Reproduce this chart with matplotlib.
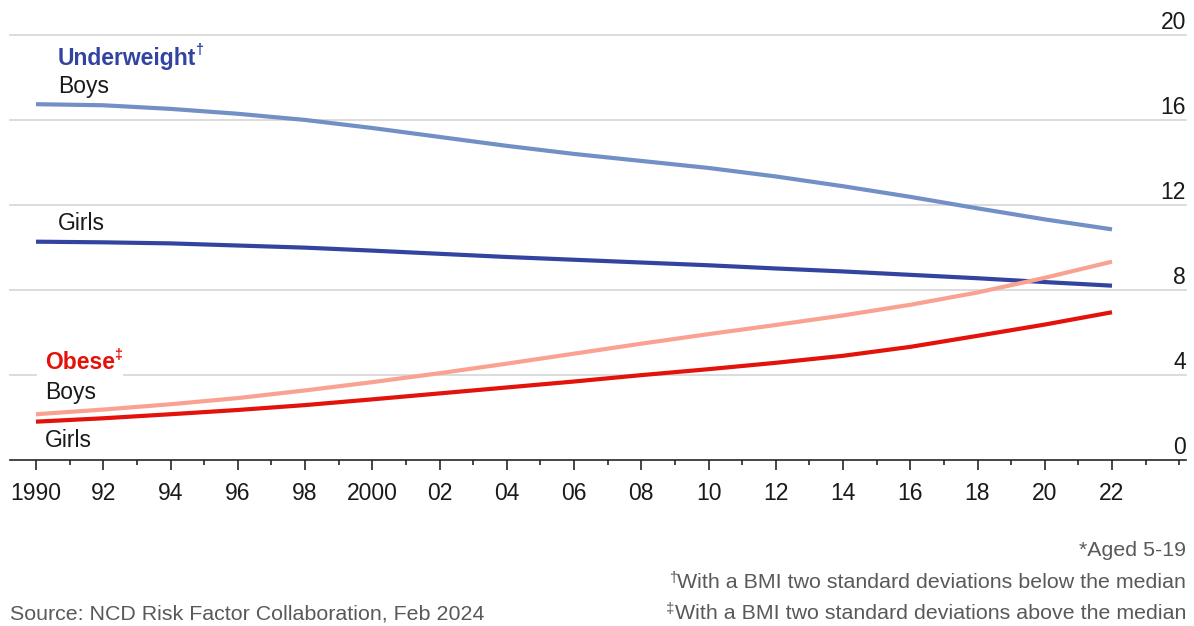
import matplotlib
matplotlib.use("Agg")
import matplotlib.pyplot as plt
from matplotlib.ticker import MultipleLocator, FixedLocator, FixedFormatter
from matplotlib.transforms import blended_transform_factory, ScaledTranslation

plt.rcParams['font.family'] = ['Liberation Sans Narrow', 'Liberation Sans', 'DejaVu Sans']

# Share of 5-19 year-olds, % (global)
years = list(range(1990, 2023, 2))
underweight_boys = [16.72, 16.67, 16.50, 16.27, 15.98, 15.60, 15.18, 14.76, 14.38,
                    14.05, 13.72, 13.32, 12.86, 12.36, 11.82, 11.30, 10.83]
underweight_girls = [10.25, 10.22, 10.17, 10.07, 9.97, 9.83, 9.68, 9.53, 9.40,
                     9.27, 9.14, 8.99, 8.85, 8.69, 8.53, 8.35, 8.18]
obese_boys = [2.13, 2.35, 2.60, 2.89, 3.25, 3.64, 4.06, 4.51, 4.98,
              5.45, 5.90, 6.33, 6.78, 7.28, 7.86, 8.55, 9.31]
obese_girls = [1.78, 1.94, 2.13, 2.33, 2.56, 2.83, 3.11, 3.39, 3.67,
               3.97, 4.25, 4.55, 4.88, 5.30, 5.82, 6.35, 6.93]

y_ticks = [0, 4, 8, 12, 16, 20]
x_major = list(range(1990, 2023, 2))
x_labels = ["1990", "92", "94", "96", "98", "2000", "02", "04", "06", "08",
            "10", "12", "14", "16", "18", "20", "22"]

C_UW_BOYS = "#7290c6"
C_UW_GIRLS = "#3344a0"
C_OB_BOYS = "#f9a292"
C_OB_GIRLS = "#e3120b"
C_GRID = "#d9d9d9"
C_TEXT = "#1a1a1a"
C_NOTE = "#595959"
FS = 16.5
FS_NOTE = 15.4

W, H = 1194, 626
fig = plt.figure(figsize=(W / 100, H / 100), dpi=100)
ax = fig.add_axes([10 / W, 1 - 459.5 / H, 1176 / W, 425 / H])
ax.set_xlim(1990 - 26 / 33.625, 2022 + 74 / 33.625)
ax.set_ylim(0, 20)

for yv in y_ticks[1:]:
    ax.axhline(yv, color=C_GRID, lw=1.3, zorder=0, clip_on=False)

for vals, col in [(underweight_boys, C_UW_BOYS), (underweight_girls, C_UW_GIRLS),
                  (obese_boys, C_OB_BOYS), (obese_girls, C_OB_GIRLS)]:
    ax.plot(years, vals, color=col, lw=3.0, solid_capstyle='butt',
            solid_joinstyle='round', zorder=3)

# Spines and x axis
for s in ['top', 'right', 'left']:
    ax.spines[s].set_visible(False)
ax.spines['bottom'].set_color('#262626')
ax.spines['bottom'].set_linewidth(1.2)
ax.xaxis.set_major_locator(FixedLocator(x_major))
ax.xaxis.set_major_formatter(FixedFormatter(x_labels))
ax.xaxis.set_minor_locator(MultipleLocator(1))
ax.tick_params(axis='x', which='major', length=7.5, width=1.2, color='#262626',
               labelsize=FS, labelcolor=C_TEXT, pad=9)
ax.tick_params(axis='x', which='minor', length=3.8, width=1.2, color='#262626')
ax.set_yticks([])

# Y values written above their gridlines at the right edge
trans = blended_transform_factory(ax.transAxes, ax.transData) + \
    ScaledTranslation(0, 4.2 / 72, fig.dpi_scale_trans)
for yv in y_ticks:
    ax.text(1.0, yv, str(yv), transform=trans, ha='right', va='baseline',
            fontsize=FS, color=C_TEXT)

FT = fig.transFigure


def fx(px):
    return px / W


def fy(py):
    return 1 - py / H


def label(px, py, s, **kw):
    return ax.text(fx(px), fy(py), s, transform=FT, va='baseline', ha=kw.pop('ha', 'left'),
                   clip_on=False, **kw)


def mark(parent, s, corner, ha, dx, dy, size, color, weight='normal', z=6):
    return ax.annotate(s, xy=corner, xycoords=parent, xytext=(dx, dy),
                       textcoords='offset points', ha=ha, va='top', fontsize=size,
                       fontweight=weight, color=color, annotation_clip=False, zorder=z)


# Series labels
uw = label(58, 64.5, "Underweight", fontsize=FS, fontweight='bold', color=C_UW_GIRLS)
mark(uw, "†", (1, 1), 'left', -1, 2.5, FS * 0.62, C_UW_GIRLS, 'bold')
label(58, 93, "Boys", fontsize=FS, color=C_TEXT)
label(58, 230, "Girls", fontsize=FS, color=C_TEXT)

ob = label(45, 369, "Obese", fontsize=FS, fontweight='bold', color=C_OB_GIRLS, zorder=5,
           bbox=dict(facecolor='white', edgecolor='none', pad=5.5))
mark(ob, "‡", (1, 1), 'left', -1, 2.5, FS * 0.62, C_OB_GIRLS, 'bold', z=7)
label(45, 399, "Boys", fontsize=FS, color=C_TEXT)
label(45, 447, "Girls", fontsize=FS, color=C_TEXT)

# Notes and source
label(1186, 556, "*Aged 5-19", fontsize=FS_NOTE, color=C_NOTE, ha='right')
n1 = label(1186, 588, "With a BMI two standard deviations below the median",
           fontsize=FS_NOTE, color=C_NOTE, ha='right')
mark(n1, "†", (0, 1), 'right', 0, 1.5, FS_NOTE * 0.7, C_NOTE)
n2 = label(1186, 619, "With a BMI two standard deviations above the median",
           fontsize=FS_NOTE, color=C_NOTE, ha='right')
mark(n2, "‡", (0, 1), 'right', 0, 1.5, FS_NOTE * 0.7, C_NOTE)
label(10, 619, "Source: NCD Risk Factor Collaboration, Feb 2024",
      fontsize=FS_NOTE, color=C_NOTE)

fig.savefig("out.png", dpi=100, facecolor='white')
